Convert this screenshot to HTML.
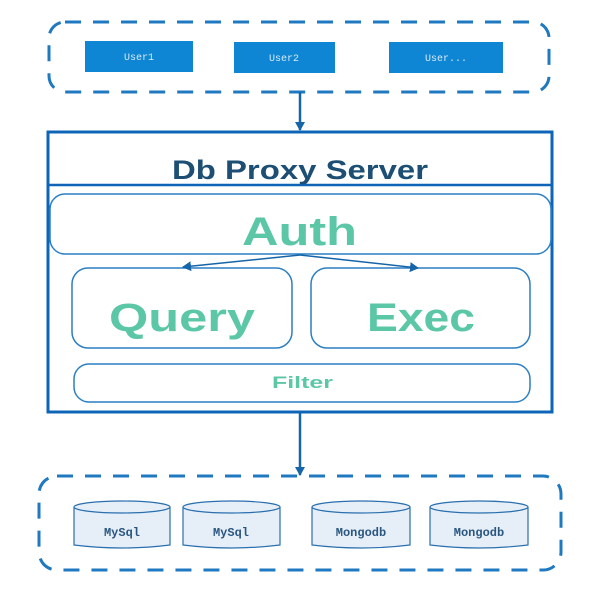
<!DOCTYPE html>
<html><head><meta charset="utf-8"><style>body{margin:0;background:#fff}</style></head><body>
<svg width="600" height="600" viewBox="0 0 600 600" xmlns="http://www.w3.org/2000/svg">
<defs><marker id="a" markerWidth="10" markerHeight="10" refX="8" refY="5" orient="auto" markerUnits="userSpaceOnUse"><path d="M0,0 L9,5 L0,10 Z" fill="#1565a8"/></marker></defs>
<rect x="49" y="22" width="500" height="70" rx="16" fill="none" stroke="#1f79c0" stroke-width="3" stroke-dasharray="16,12"/>
<g fill="#0e86d4"><rect x="85" y="41" width="108" height="31"/><rect x="234" y="42" width="101" height="31"/><rect x="389" y="42" width="114" height="31"/></g>
<g font-family="Liberation Mono, monospace" font-size="10" fill="#dbeaf7" text-anchor="middle"><text x="139" y="60">User1</text><text x="284" y="61">User2</text><text x="446" y="61">User...</text></g>
<line x1="300" y1="92" x2="300" y2="130" stroke="#1565a8" stroke-width="2.5" marker-end="url(#a)"/>
<rect x="48" y="132" width="504" height="280" fill="none" stroke="#0e65b8" stroke-width="3"/>
<line x1="48" y1="185" x2="552" y2="185" stroke="#0e65b8" stroke-width="2.5"/>
<text x="172" y="179" textLength="256" lengthAdjust="spacingAndGlyphs" font-family="Liberation Sans, sans-serif" font-weight="bold" font-size="27" fill="#1d4e74">Db Proxy Server</text>
<g fill="none" stroke="#2b7fc3" stroke-width="1.5">
<rect x="50" y="194" width="501" height="60" rx="15"/>
<rect x="72" y="268" width="220" height="80" rx="16"/>
<rect x="311" y="268" width="219" height="80" rx="16"/>
<rect x="74" y="364" width="456" height="38" rx="15"/>
</g>
<g stroke="#1565a8" stroke-width="1.5" fill="none"><line x1="300" y1="255" x2="183" y2="267" marker-end="url(#a)"/><line x1="300" y1="255" x2="418" y2="268" marker-end="url(#a)"/></g>
<g font-family="Liberation Sans, sans-serif" font-weight="bold" fill="#5cc7a6" lengthAdjust="spacingAndGlyphs">
<text x="242" y="245" font-size="40" textLength="115" lengthAdjust="spacingAndGlyphs">Auth</text>
<text x="109" y="331" font-size="40" textLength="146" lengthAdjust="spacingAndGlyphs">Query</text>
<text x="367" y="331" font-size="40" textLength="108" lengthAdjust="spacingAndGlyphs">Exec</text>
<text x="272" y="388" font-size="17" textLength="61" lengthAdjust="spacingAndGlyphs">Filter</text>
</g>
<line x1="300" y1="412" x2="300" y2="475" stroke="#1565a8" stroke-width="2.5" marker-end="url(#a)"/>
<rect x="39" y="476" width="522" height="94" rx="18" fill="none" stroke="#1f79c0" stroke-width="3" stroke-dasharray="16,12"/>
<g stroke="#2a6fae" stroke-width="1.2" fill="#e6eff8">
<path d="M74,507 v38 q48,6 96,0 v-38"/><ellipse cx="122" cy="507" rx="48" ry="6"/>
<path d="M183,507 v38 q48,6 97,0 v-38"/><ellipse cx="231.5" cy="507" rx="48.5" ry="6"/>
<path d="M312,507 v38 q49,6 98,0 v-38"/><ellipse cx="361" cy="507" rx="49" ry="6"/>
<path d="M430,507 v38 q49,6 98,0 v-38"/><ellipse cx="479" cy="507" rx="49" ry="6"/>
</g>
<g font-family="Liberation Mono, monospace" font-weight="bold" font-size="12" fill="#2a5680" text-anchor="middle">
<text x="122" y="536">MySql</text><text x="231" y="536">MySql</text><text x="361" y="536">Mongodb</text><text x="479" y="536">Mongodb</text>
</g>
</svg>
</body></html>
